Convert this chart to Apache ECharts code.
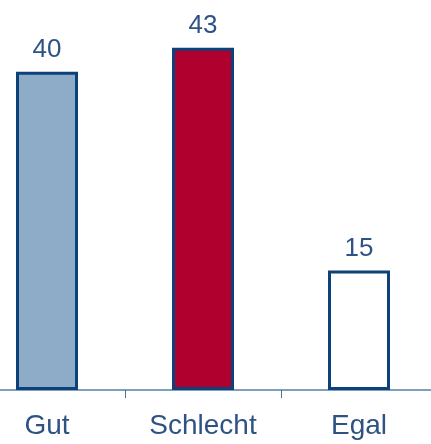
<!DOCTYPE html>
<html><head><meta charset="utf-8">
<script src="https://cdn.jsdelivr.net/npm/echarts@6/dist/echarts.min.js"></script>
<style>html,body{margin:0;padding:0;background:#fff;overflow:hidden;width:431px;height:444px}
#wrap{position:relative;width:431px;height:444px;overflow:hidden}
#c{position:absolute;left:-31px;top:0;width:468px;height:444px}</style>
</head><body><div id="wrap"><div id="c"></div></div>
<script>
const categories = ['Gut', 'Schlecht', 'Egal'];
const values = [40, 43, 15];
const fills = ['#8eacc8', '#b0002e', '#ffffff'];

const chart = echarts.init(document.getElementById('c'), null, {renderer: 'canvas'});
chart.setOption({
  animation: false,
  grid: {left: 0, right: 0, top: 0, bottom: 54},
  xAxis: {
    type: 'category', data: categories,
    axisLine: {lineStyle: {color: '#7f9fc0', width: 2}},
    axisTick: {show: true, length: 8, lineStyle: {color: '#4d7099', width: 1}},
    axisLabel: {color: '#2e5283', fontSize: 28, fontFamily: 'Liberation Sans', margin: 22}
  },
  yAxis: {type: 'value', min: 0, max: 49, show: false, splitLine: {show: false}},
  series: [{
    type: 'bar', barWidth: 62,
    data: values.map((v, i) => ({value: v, itemStyle: {color: fills[i]}})),
    itemStyle: {borderColor: '#0d4179', borderWidth: 3},
    label: {show: true, position: 'top', distance: 9, color: '#2e5283', fontSize: 26, fontFamily: 'Liberation Sans'}
  }]
});
</script></body></html>
